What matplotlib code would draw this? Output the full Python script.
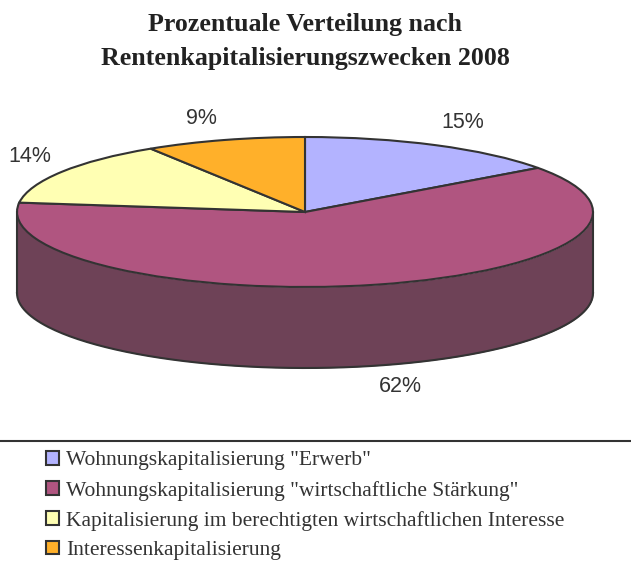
import numpy as np
import matplotlib
matplotlib.use('Agg')
import matplotlib.pyplot as plt

categories = ['Wohnungskapitalisierung "Erwerb"',
              'Wohnungskapitalisierung "wirtschaftliche Stärkung"',
              'Kapitalisierung im berechtigten wirtschaftlichen Interesse',
              'Interessenkapitalisierung']
shares = [15, 62, 14, 9]
pct_labels = ['15%', '62%', '14%', '9%']
colors = ['#B3B3FF', '#B05580', '#FFFFB3', '#FFB02A']
wall_color = '#6E4257'
edge = '#333333'

W, H = 631, 561
# pie centre and ellipse radii in pixels
CX, CY, RX, RY = 305, 212, 288, 75
DEPTH = 81 / RY


def main():
    fig = plt.figure(figsize=(W / 100, H / 100), dpi=100)
    ax = fig.add_axes([0, 0, 1, 1])

    # side wall first, the flat pie goes on top
    t = np.linspace(np.pi, 2 * np.pi, 200)
    ax.fill_between(np.cos(t), np.sin(t) - DEPTH, np.sin(t), color=wall_color, lw=0, zorder=1)
    ax.plot(np.cos(t), np.sin(t) - DEPTH, color=edge, lw=1.5, zorder=2)
    ax.plot([-1, -1], [0, -DEPTH], color=edge, lw=1.5, zorder=2)
    ax.plot([1, 1], [0, -DEPTH], color=edge, lw=1.5, zorder=2)

    wedges, _ = ax.pie(shares, colors=colors, startangle=90, counterclock=False, radius=1,
                       wedgeprops={'edgecolor': edge, 'linewidth': 1.5, 'zorder': 3})

    # squash the circle into the ellipse
    ax.set_aspect('auto')
    ax.set_xlim(-CX / RX, (W - CX) / RX)
    ax.set_ylim((CY - H) / RY, CY / RY)
    ax.axis('off')

    fig.text(305 / W, 1 - 25 / H, 'Prozentuale Verteilung nach', ha='center', va='center',
             family='Liberation Serif', weight='bold', fontsize=18.6, color='#222222')
    fig.text(305 / W, 1 - 59 / H, 'Rentenkapitalisierungszwecken 2008', ha='center', va='center',
             family='Liberation Serif', weight='bold', fontsize=18.6, color='#222222')

    label_pos = [(463, 123), (400, 387), (30, 157), (201, 119)]
    for lab, (x, y) in zip(pct_labels, label_pos):
        fig.text(x / W, 1 - y / H, lab, ha='center', va='center',
                 family='Liberation Sans', fontsize=15.5, color='#333333')

    fig.add_artist(plt.Line2D([0, 1], [1 - 441 / H] * 2, color=edge, lw=1.5))

    leg = ax.legend(wedges, categories, loc='upper left', bbox_to_anchor=(31 / W, 1 - 436 / H),
                    bbox_transform=fig.transFigure, frameon=False, ncol=1,
                    prop={'family': 'Liberation Serif', 'size': 15.5},
                    labelspacing=0.47, handlelength=0.6, handleheight=0.6,
                    handletextpad=0.32, borderpad=0.2, labelcolor='#333333')
    for h in leg.legend_handles:
        h.set_linewidth(1.5)

    fig.savefig('out.png', dpi=100)


if __name__ == "__main__":
    main()
